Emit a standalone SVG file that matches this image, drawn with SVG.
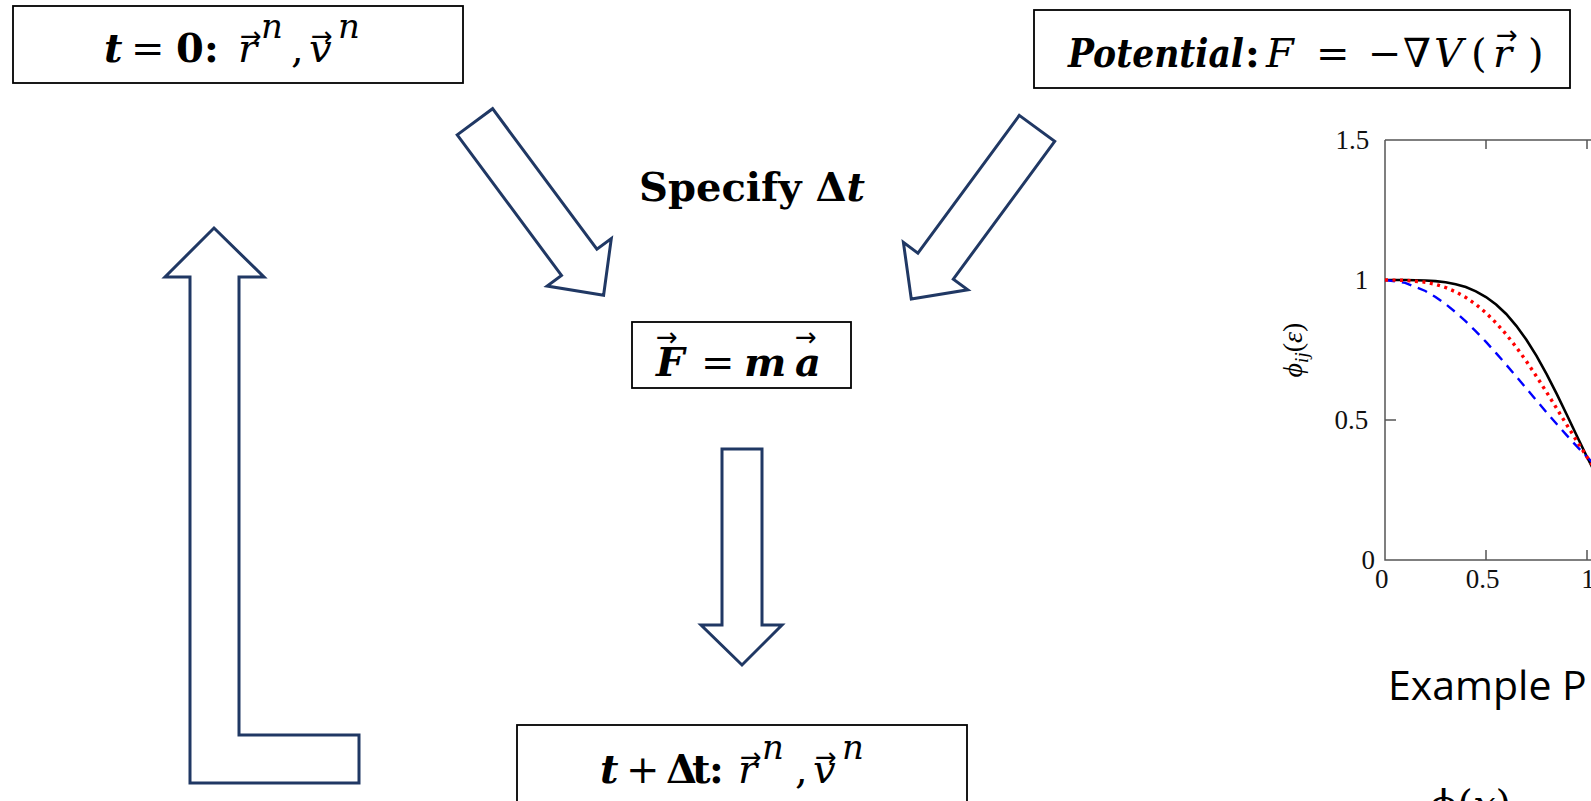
<svg xmlns="http://www.w3.org/2000/svg" width="1591" height="801" viewBox="0 0 1591 801">
<style>
.box{fill:#fff;stroke:#000;stroke-width:1.8}
.blk{fill:#fff;stroke:#203864;stroke-width:3;stroke-linejoin:miter}
.m{font-family:"DejaVu Serif","Liberation Serif",serif;font-size:40px;fill:#000}
.bi{font-weight:bold;font-style:italic}
.b{font-weight:bold}
.i{font-style:italic}
.sup{font-size:34px;font-style:italic}
.vec{font-family:"DejaVu Sans",sans-serif;font-size:26px;fill:#000}
.ax{fill:none;stroke:#555;stroke-width:1.5}
.tk{font-family:"Liberation Serif",serif;font-size:27px;fill:#111}
.cap{font-family:"Open Sans","Liberation Sans",sans-serif;font-size:41px;fill:#000}
</style>
<rect x="0" y="0" width="1591" height="801" fill="#fff"/>

<!-- block arrows -->
<g id="connectors">
  <polygon class="blk" points="457.2,134.9 492.6,108.7 596.9,249.2 611.3,238.5 603.6,295.2 547.1,286.1 561.5,275.4"/>
  <polygon class="blk" points="1019.3,115.4 1054.7,141.4 953.3,279.1 967.8,289.8 911.3,299.1 903.4,242.4 917.9,253.1"/>
  <polygon class="blk" points="722,449 762,449 762,625 782,625 742,665 701,625 722,625"/>
  <polygon class="blk" points="214,228 264,277 239,277 239,735 359,735 359,783 190,783 190,277 165,277"/>
</g>

<!-- initial state -->
<g id="box-t0">
  <rect class="box" x="13" y="6" width="450" height="77"/>
  <text class="m" y="62"><tspan x="104" class="bi">t</tspan><tspan x="131">=</tspan><tspan x="176" class="b">0</tspan><tspan x="204" class="b">:</tspan><tspan x="238" class="i">r</tspan><tspan x="291">,</tspan><tspan x="309" class="i">v</tspan></text>
  <text class="m sup" y="38"><tspan x="261">n</tspan><tspan x="338">n</tspan></text>
  <text class="vec" y="45"><tspan x="240">→</tspan><tspan x="311">→</tspan></text>
</g>

<!-- potential -->
<g id="box-potential">
  <rect class="box" x="1034" y="10" width="536" height="78"/>
  <text class="m bi" x="1068" y="67" font-size="46" textLength="176" lengthAdjust="spacingAndGlyphs">Potential</text>
  <text class="m" y="67" font-size="46"><tspan x="1245" class="b">:</tspan><tspan x="1266" class="i">F</tspan><tspan x="1316">=</tspan><tspan x="1368">−</tspan><tspan x="1403">∇</tspan><tspan x="1434" class="i">V</tspan><tspan x="1471">(</tspan><tspan x="1493" class="i">r</tspan><tspan x="1528">)</tspan></text>
  <text class="vec" x="1496" y="44">→</text>
</g>

<!-- time step label -->
<g id="label-dt">
  <text class="m b" x="639" y="201" font-size="43" textLength="226" lengthAdjust="spacingAndGlyphs">Specify Δ<tspan class="bi">t</tspan></text>
</g>

<!-- Newton's law -->
<g id="box-fma">
  <rect class="box" x="632" y="322" width="219" height="66"/>
  <text class="m" y="376" font-size="44"><tspan x="656" class="bi">F</tspan><tspan x="701" font-size="40">=</tspan><tspan x="744" class="bi">m</tspan><tspan x="795" class="bi">a</tspan></text>
  <text class="vec" y="346" font-size="36"><tspan x="656">→</tspan><tspan x="795">→</tspan></text>
</g>

<!-- advanced state -->
<g id="box-tdt">
  <rect class="box" x="517" y="725" width="450" height="90"/>
  <text class="m" y="783"><tspan x="600" class="bi">t</tspan><tspan x="626">+</tspan><tspan x="666" class="b">Δ</tspan><tspan x="692" class="b">t</tspan><tspan x="709" class="b">:</tspan><tspan x="738" class="i">r</tspan><tspan x="795">,</tspan><tspan x="813" class="i">v</tspan></text>
  <text class="m sup" y="759"><tspan x="762">n</tspan><tspan x="842">n</tspan></text>
  <text class="vec" y="766"><tspan x="740">→</tspan><tspan x="815">→</tspan></text>
</g>

<!-- example potential plot -->
<g id="plot">
  <path class="ax" d="M1385,140 V560 H1591 M1385,140 H1591"/>
  <path class="ax" d="M1486,140 v9 M1587,140 v9 M1486,560 v-10 M1587,560 v-10 M1385,420 h11 M1385,280 h11"/>
  <text class="tk" text-anchor="end">
    <tspan x="1376" y="149">1.5</tspan>
    <tspan x="1375" y="289">1</tspan>
    <tspan x="1375" y="429">0.5</tspan>
    <tspan x="1375" y="569">0</tspan>
  </text>
  <text class="tk" text-anchor="middle">
    <tspan x="1385" y="588">0</tspan>
    <tspan x="1486" y="588">0.5</tspan>
    <tspan x="1588" y="588">1</tspan>
  </text>
  <text font-family="Liberation Serif, DejaVu Serif, serif" font-size="28" font-style="italic" text-anchor="middle" transform="translate(1302,350) rotate(-90)">ϕ<tspan font-size="19" dy="6">ij</tspan><tspan dy="-6" font-style="normal">(</tspan>ε<tspan font-style="normal">)</tspan></text>
  <polyline fill="none" stroke="#000" stroke-width="2.6" points="1385,280 1405.2,280 1425.4,280.5 1435.5,281.1 1445.6,282.3 1455.7,284.2 1465.8,287.1 1475.9,291.3 1486,297 1496.1,304.5 1506.2,314 1516.3,325.8 1526.4,339.8 1536.5,355.9 1546.6,374.1 1556.7,393.9 1566.8,414.7 1576.9,436 1587,457 1597.1,477"/>
  <polyline fill="none" stroke="#0000ff" stroke-width="2.4" stroke-dasharray="10 7" points="1385,280 1405.2,282.8 1425.4,291 1435.5,297 1445.6,304.1 1455.7,312.3 1465.8,321.4 1475.9,331.3 1486,341.9 1496.1,353.1 1506.2,364.7 1516.3,376.5 1526.4,388.5 1536.5,400.5 1546.6,412.4 1556.7,424 1566.8,435.4 1576.9,446.4 1587,457 1597.1,467"/>
  <polyline fill="none" stroke="#ff0000" stroke-width="3.4" stroke-dasharray="3 4.5" points="1385,280 1405.2,280.3 1425.4,282.2 1435.5,284.3 1445.6,287.5 1455.7,291.8 1465.8,297.4 1475.9,304.4 1486,312.9 1496.1,322.9 1506.2,334.4 1516.3,347.2 1526.4,361.3 1536.5,376.4 1546.6,392.2 1556.7,408.5 1566.8,424.9 1576.9,441.2 1587,457 1597.1,472"/>
</g>

<g id="caption">
  <text class="cap" x="1388" y="700">Example P</text>
  <text class="m" x="1430" y="818" font-size="58">ϕ(<tspan class="i">x</tspan>)</text>
</g>
</svg>
